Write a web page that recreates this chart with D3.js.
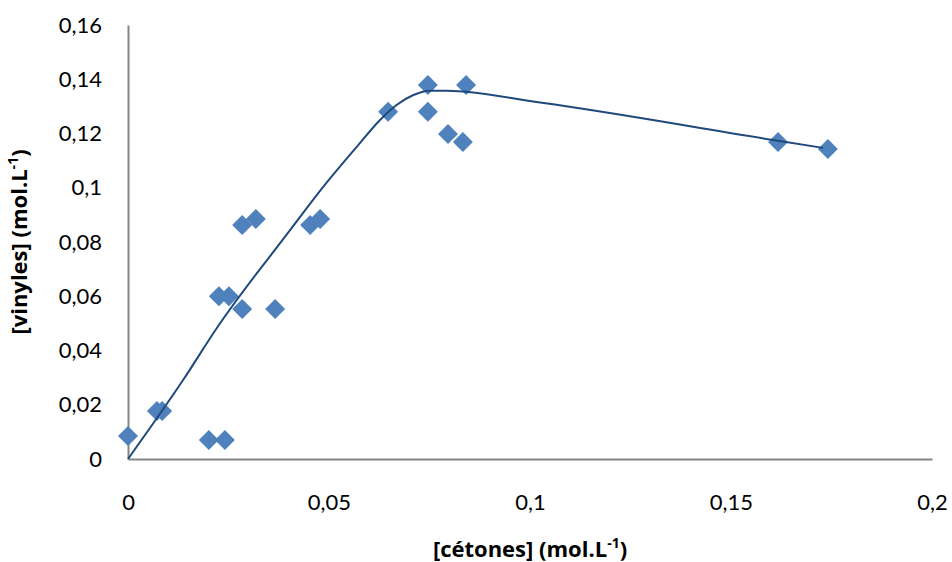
<!DOCTYPE html>
<html><head><meta charset="utf-8">
<script src="https://cdn.jsdelivr.net/npm/d3@7"></script>
<style>body{margin:0;background:#fff}svg{display:block}</style>
</head><body><svg id="c" width="952" height="562"></svg>
<script>
const cetones = [0, 0.0072, 0.0085, 0.0201, 0.0241, 0.0226, 0.0251, 0.0284, 0.0284, 0.0318, 0.0366, 0.0453, 0.0478, 0.0647, 0.0746, 0.0746, 0.0796, 0.0833, 0.0841, 0.1617, 0.1741];
const vinyles = [0.0085, 0.0177, 0.0177, 0.0070, 0.0070, 0.0600, 0.0600, 0.0553, 0.0863, 0.0885, 0.0553, 0.0863, 0.0885, 0.1280, 0.1379, 0.1280, 0.1198, 0.1169, 0.1379, 0.1169, 0.1143];
const fitX = [0, 0.0137, 0.0221, 0.0407, 0.0486, 0.0569, 0.0627, 0.0668, 0.0710, 0.0751, 0.0793, 0.1025, 0.1605, 0.1729];
const fitY = [0, 0.0291, 0.0483, 0.0851, 0.1004, 0.1151, 0.1250, 0.1305, 0.1342, 0.1358, 0.1358, 0.1314, 0.1176, 0.1147];
const xTicks = [0, 0.05, 0.1, 0.15, 0.2];
const yTicks = [0, 0.02, 0.04, 0.06, 0.08, 0.1, 0.12, 0.14, 0.16];

const svg = d3.select("#c");
const x = d3.scaleLinear().domain([0, 0.2]).range([128, 932]);
const y = d3.scaleLinear().domain([0, 0.16]).range([459, 25]);
const fmt = d => String(+d.toFixed(4)).replace(".", ",");

const xa = svg.append("g").attr("transform", "translate(0,459)")
  .call(d3.axisBottom(x).tickValues(xTicks).tickSize(0).tickPadding(35).tickFormat(fmt));
const ya = svg.append("g").attr("transform", "translate(128,0)")
  .call(d3.axisLeft(y).tickValues(yTicks).tickSize(0).tickPadding(26).tickFormat(fmt));
[xa, ya].forEach(a => {
  a.select(".domain").attr("stroke", "#868686").attr("stroke-width", 2);
  a.selectAll("text").style("font-size", "22px").attr("fill", "#000").style("font-family", "Lato, 'Open Sans', sans-serif");
});

const pts = cetones.map((c, i) => [c, vinyles[i]]);
svg.append("g").selectAll("path").data(pts).join("path")
  .attr("d", d3.symbol(d3.symbolSquare, 200))
  .attr("transform", d => `translate(${x(d[0])},${y(d[1])}) rotate(45)`)
  .attr("fill", "#4F81BD");

const fit = fitX.map((c, i) => [c, fitY[i]]);
svg.append("path").datum(fit)
  .attr("d", d3.line().x(d => x(d[0])).y(d => y(d[1])).curve(d3.curveMonotoneX))
  .attr("fill", "none").attr("stroke", "#1F497D").attr("stroke-width", 2);

const tf = "'Open Sans', Lato, sans-serif";
const xt = svg.append("text").attr("x", 530).attr("y", 557).attr("text-anchor", "middle")
  .style("font-size", "22px").style("font-weight", "bold").style("font-family", tf);
xt.append("tspan").text("[cétones] (mol.L");
xt.append("tspan").attr("dy", -9).style("font-size", "14px").text("-1");
xt.append("tspan").attr("dy", 9).text(")");

const yt = svg.append("text").attr("transform", "translate(27,242) rotate(-90)").attr("text-anchor", "middle")
  .style("font-size", "22px").style("font-weight", "bold").style("font-family", tf);
yt.append("tspan").text("[vinyles] (mol.L");
yt.append("tspan").attr("dy", -9).style("font-size", "14px").text("-1");
yt.append("tspan").attr("dy", 9).text(")");
</script></body></html>
